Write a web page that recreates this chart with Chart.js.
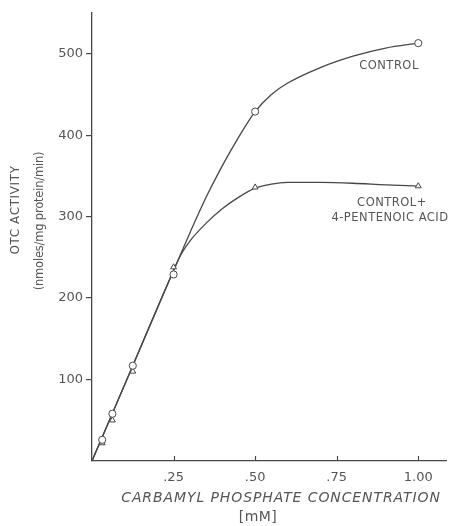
<!DOCTYPE html>
<html>
<head>
<meta charset="utf-8">
<script src="https://cdn.jsdelivr.net/npm/chart.js@4/dist/chart.umd.min.js"></script>
<style>
  html, body { margin: 0; padding: 0; background: #fff; }
  #wrap { width: 451px; height: 526px; }
</style>
</head>
<body>
<div id="wrap"><canvas id="c" width="451" height="526"></canvas></div>
<script>
// ---- data ----
const concX = [0.03125, 0.0625, 0.125, 0.25, 0.5, 1.0];           // carbamyl phosphate (mM)
const controlPts = [26, 58, 117, 229, 429, 513];                  // circles
const acidPts = [22, 50, 110, 238, 336, 337.5];                   // triangles
const controlCurveX = [0, 0.125, 0.25, 0.3, 0.35, 0.4, 0.45, 0.5, 0.55, 0.6, 0.7, 0.8, 0.9, 1.0];
const controlCurve = [0, 117, 234, 280, 324, 363, 398, 429, 450, 464, 483, 497, 507, 513];
const acidCurveX = [0, 0.125, 0.25, 0.275, 0.3, 0.35, 0.4, 0.45, 0.5, 0.55, 0.6, 0.7, 0.8, 0.9, 1.0];
const acidCurve = [0, 117, 234, 255, 270, 292, 310, 324, 335, 340, 342, 342, 341, 339, 337.5];
const xTicks = [0.25, 0.5, 0.75, 1.0];
const xTickLabels = ['.25', '.50', '.75', '1.00'];
const yTicks = [100, 200, 300, 400, 500];

const INK = '#474747';
const TXT = '#555555';

function pts(xs, ys) { return xs.map((x, i) => ({ x: x, y: ys[i] })); }

const decor = {
  id: 'decor',
  afterDraw(chart) {
    const ctx = chart.ctx;
    const xs = chart.scales.x;
    const bottom = chart.chartArea.bottom;
    ctx.save();
    // inward x ticks
    ctx.strokeStyle = INK;
    ctx.lineWidth = 1.2;
    xTicks.forEach(v => {
      const px = Math.round(xs.getPixelForValue(v)) + 0.5;
      ctx.beginPath();
      ctx.moveTo(px, bottom);
      ctx.lineTo(px, bottom - 5);
      ctx.stroke();
    });
    ctx.fillStyle = TXT;
    ctx.textAlign = 'center';
    ctx.textBaseline = 'middle';
    // x title
    ctx.font = 'italic 14px "DejaVu Sans"';
    ctx.letterSpacing = '0.9px';
    ctx.fillText('CARBAMYL PHOSPHATE CONCENTRATION', 281, 498);
    ctx.font = '14px "DejaVu Sans"';
    ctx.letterSpacing = '0.5px';
    ctx.fillText('[mM]', 258, 517);
    // y title
    ctx.save();
    ctx.translate(16, 210);
    ctx.rotate(-Math.PI / 2);
    ctx.font = '12px "DejaVu Sans"';
    ctx.letterSpacing = '0.6px';
    ctx.fillText('OTC ACTIVITY', 0, 0);
    ctx.restore();
    ctx.save();
    ctx.translate(40, 221);
    ctx.rotate(-Math.PI / 2);
    ctx.font = '11.5px "DejaVu Sans"';
    ctx.letterSpacing = '-0.2px';
    ctx.fillText('(nmoles/mg protein/min)', 0, 0);
    ctx.restore();
    // curve labels
    ctx.font = '11.5px "DejaVu Sans"';
    ctx.letterSpacing = '0.5px';
    ctx.fillText('CONTROL', 389, 66);
    ctx.fillText('CONTROL+', 392, 203);
    ctx.fillText('4-PENTENOIC ACID', 390, 218);
    ctx.restore();
  }
};

new Chart(document.getElementById('c'), {
  type: 'scatter',
  data: {
    datasets: [
      {
        label: 'Control curve', data: pts(controlCurveX, controlCurve), showLine: true,
        borderColor: INK, borderWidth: 1.3, pointRadius: 0, cubicInterpolationMode: 'monotone', order: 3
      },
      {
        label: 'Acid curve', data: pts(acidCurveX, acidCurve), showLine: true,
        borderColor: INK, borderWidth: 1.3, pointRadius: 0, cubicInterpolationMode: 'monotone', order: 3
      },
      {
        label: 'Control', data: pts(concX, controlPts), showLine: false,
        pointStyle: 'circle', pointRadius: 3.6, backgroundColor: '#fff', borderColor: INK, borderWidth: 1, order: 1
      },
      {
        label: 'Control + 4-pentenoic acid', data: pts(concX, acidPts), showLine: false,
        pointStyle: 'triangle', pointRadius: 3.4, backgroundColor: '#fff', borderColor: INK, borderWidth: 1, order: 2
      }
    ]
  },
  options: {
    responsive: false,
    animation: false,
    devicePixelRatio: 1,
    layout: { padding: { top: 13, right: 0, left: 0, bottom: 0 } },
    plugins: { legend: { display: false }, tooltip: { enabled: false } },
    scales: {
      x: {
        type: 'linear', min: 0, max: 1.085,
        afterBuildTicks: s => { s.ticks = xTicks.map(v => ({ value: v })); },
        afterFit: s => { s.height = 65; },
        border: { display: true, color: INK, width: 1.3 },
        grid: { display: true, drawOnChartArea: false, drawTicks: false },
        ticks: {
          padding: 9, color: TXT, font: { family: 'DejaVu Sans', size: 13 },
          maxRotation: 0,
          callback: v => { const i = xTicks.indexOf(v); return i >= 0 ? xTickLabels[i] : ''; }
        }
      },
      y: {
        type: 'linear', min: 0, max: 550,
        afterBuildTicks: s => { s.ticks = yTicks.map(v => ({ value: v })); },
        afterFit: s => { s.width = 92; },
        border: { display: true, color: INK, width: 1.3 },
        grid: { display: true, drawOnChartArea: false, drawTicks: true, tickLength: 6, tickColor: INK, lineWidth: 1.2 },
        ticks: { padding: 3, color: TXT, font: { family: 'DejaVu Sans', size: 13 } }
      }
    }
  },
  plugins: [decor]
});
</script>
</body>
</html>
